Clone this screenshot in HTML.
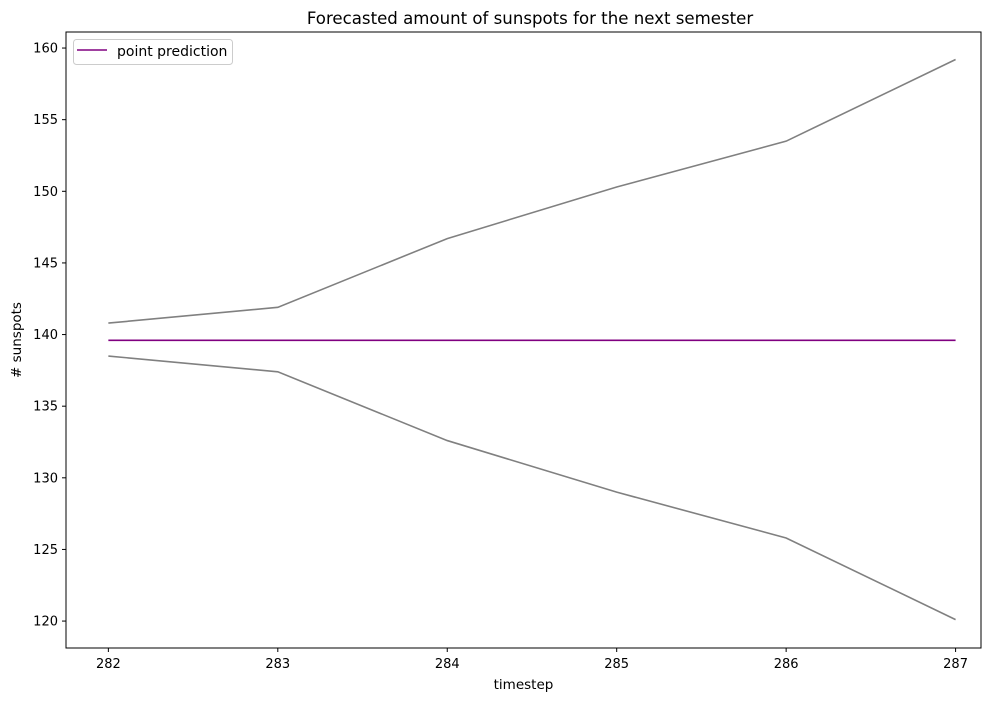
<!DOCTYPE html>
<html><head><meta charset="utf-8"><style>
body{margin:0;background:#fff;}
svg{font-family:"DejaVu Sans","Liberation Sans",sans-serif;}
</style></head><body>
<svg id="chart" width="1005" height="701"></svg>
<script>
const timesteps=[282,283,284,285,286,287];
const upperBound=[140.8,141.9,146.7,150.3,153.5,159.2];
const lowerBound=[138.5,137.4,132.6,129.0,125.8,120.1];
const pointPrediction=[139.6,139.6,139.6,139.6,139.6,139.6];
const yTicks=[120,125,130,135,140,145,150,155,160];
const xTicks=[282,283,284,285,286,287];

const L=66,R=981,T=32,B=648;
const x0=281.75,x1=287.15;
const y0=118.12,y1=161.12;
const sx=v=>L+(v-x0)/(x1-x0)*(R-L);
const sy=v=>B-(v-y0)/(y1-y0)*(B-T);
const svg=document.getElementById('chart');
const NS='http://www.w3.org/2000/svg';
function mk(tag,attrs,parent){const e=document.createElementNS(NS,tag);for(const k in attrs)e.setAttribute(k,attrs[k]);(parent||svg).appendChild(e);return e;}

function line(vals,color,name){
  const p=mk('polyline',{points:vals.map((v,i)=>sx(timesteps[i])+','+sy(v)).join(' '),fill:'none',stroke:color,'stroke-width':1.6});
  
  
}
line(upperBound,'#808080','upper-bound-line');
line(lowerBound,'#808080','lower-bound-line');
line(pointPrediction,'#800080','point-prediction-line');

const frame=mk('rect',{x:L,y:T,width:R-L,height:B-T,fill:'none',stroke:'#000','stroke-width':1});



yTicks.forEach(v=>{
  const y=sy(v);
  mk('line',{x1:L-4,x2:L,y1:y,y2:y,stroke:'#000'});
  const t=mk('text',{x:L-8,y:y+4.5,'text-anchor':'end','font-size':13,fill:'#000'});
  t.textContent=v;
  
  
});
xTicks.forEach(v=>{
  const x=sx(v);
  mk('line',{x1:x,x2:x,y1:B,y2:B+4,stroke:'#000'});
  const t=mk('text',{x:x,y:B+20,'text-anchor':'middle','font-size':13,fill:'#000'});
  t.textContent=v;
  
  
});

let t=mk('text',{x:530,y:24,'text-anchor':'middle','font-size':16.6,fill:'#000'});
t.textContent='Forecasted amount of sunspots for the next semester';


t=mk('text',{x:(L+R)/2,y:689,'text-anchor':'middle','font-size':13.5,fill:'#000'});
t.textContent='timestep';


t=mk('text',{x:0,y:0,'text-anchor':'middle','font-size':13.5,fill:'#000',transform:'translate(21,340) rotate(-90)'});
t.textContent='# sunspots';



const lg=mk('g',{});


mk('rect',{x:73.5,y:39.5,width:159,height:25,rx:3,fill:'#fff','fill-opacity':0.8,stroke:'#ccc'},lg);
mk('line',{x1:77,x2:107,y1:50,y2:50,stroke:'#800080','stroke-width':1.6},lg);
t=mk('text',{x:117,y:56,'font-size':14,fill:'#000'},lg);
t.textContent='point prediction';


</script>
</body></html>
